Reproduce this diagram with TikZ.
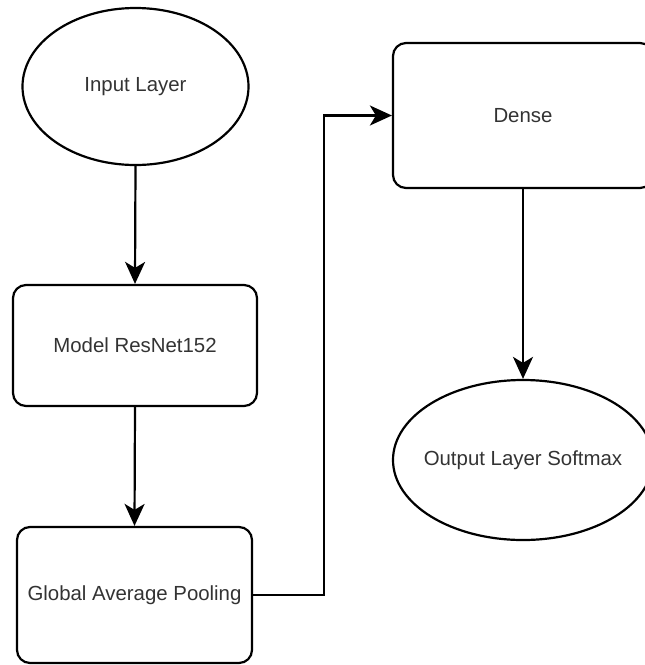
\documentclass[tikz,border=0pt]{standalone}
\usepackage{fontspec}
\setmainfont{Liberation Sans}
\usetikzlibrary{shapes.geometric,arrows.meta}
\definecolor{txt}{HTML}{333333}
\begin{document}
\begin{tikzpicture}[x=1pt,y=-1pt,
  txtstyle/.style={text=txt,font=\fontsize{20.4}{24}\selectfont},
  base/.style={draw=black,line width=2.2pt,inner sep=0pt,txtstyle},
  oval/.style={base,ellipse},
  roundbox/.style={base,rectangle,rounded corners=13pt},
  arr/.style={line width=2.2pt,-{Stealth[length=22pt,width=20pt,inset=6pt]}}]
\useasboundingbox (0,0) rectangle (645,665);
\clip (0,0) rectangle (645,665);
\node[oval,minimum width=226pt,minimum height=157pt,
  label={[txtstyle]center:Input Layer}] (in) at (135.5,86.5) {};
\node[roundbox,minimum width=244pt,minimum height=121pt] (model) at (135,345.5) {Model ResNet152};
\node[roundbox,minimum width=235pt,minimum height=136pt] (gap) at (134.5,595) {Global Average Pooling};
\node[roundbox,minimum width=260pt,minimum height=145pt] (dense) at (523,115.5) {Dense};
\node[oval,minimum width=260pt,minimum height=160pt,
  label={[txtstyle]center:Output Layer Softmax}] (out) at (523,460) {};
\coordinate (bend) at (324,595);
\draw[arr] (in.south) -- (model.north);
\draw[arr] (model.south) -- (gap.north);
\draw[arr] (gap.east) -- (bend) |- (dense.west);
\draw[arr] (dense.south) -- (out.north);
\end{tikzpicture}
\end{document}
